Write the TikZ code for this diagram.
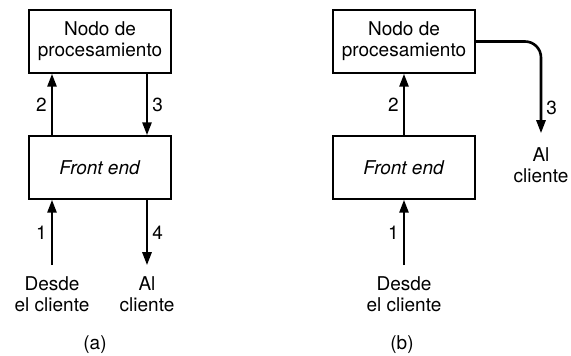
\documentclass[tikz,border=0pt]{standalone}
\usepackage{fontspec}
\setmainfont{TeX Gyre Heros}
\usetikzlibrary{positioning, arrows.meta, calc}
\tikzset{
  arr/.style={-{Triangle[length=13pt,width=9pt]}, line width=2.6pt, draw=black},
  blk/.style={draw=black, line width=1.4pt, minimum width=142pt, minimum height=63pt,
    align=center, inner sep=2pt, fill=white},
  txt/.style={align=center, inner sep=0pt},
  lab/.style={inner sep=4pt}
}
\begin{document}
\begin{tikzpicture}[x=1pt, y=-1pt, font=\fontsize{19}{21}\selectfont]
\useasboundingbox (0,0) rectangle (571,356);
% ---- (a): request and reply both through the front end ----
\node[blk] (proca) at (100,41.5) {Nodo de\\procesamiento};
\node[blk] (fronta) at (100,167.5) {\textit{Front end}};
\node[txt] (desdea) at (52,294) {Desde\\el cliente};
\node[txt] (ala) at (147,294) {Al\\cliente};
\draw[arr] ([yshift=11pt]desdea.north) -- (desdea.north |- fronta.south)
  node[lab, left, midway] {1};
\draw[arr] (fronta.north -| desdea) -- (proca.south -| desdea)
  node[lab, left, midway] {2};
\draw[arr] (proca.south -| ala) -- (fronta.north -| ala)
  node[lab, right, midway] {3};
\draw[arr] (fronta.south -| ala) -- ([yshift=11pt]ala.north)
  node[lab, right, midway] {4};
\node (capa) at (95,345) {(a)};
% ---- (b): reply sent straight from the processing node ----
\node[blk] (procb) at (404,41.5) {Nodo de\\procesamiento};
\node[blk] (frontb) at (404,167.5) {\textit{Front end}};
\node[txt] (desdeb) at (404,294) {Desde\\el cliente};
\node[txt] (alb) at (541,165) {Al\\cliente};
\draw[arr] ([yshift=11pt]desdeb.north) -- (frontb.south)
  node[lab, left, midway] {1};
\draw[arr] (frontb.north) -- (procb.south)
  node[lab, left, midway] {2};
\draw[arr, rounded corners=16pt] (procb.east) -| ([yshift=14pt]alb.north)
  node[lab, right, pos=0.86] {3};
\node (capb) at (402,345) {(b)};
\end{tikzpicture}
\end{document}
